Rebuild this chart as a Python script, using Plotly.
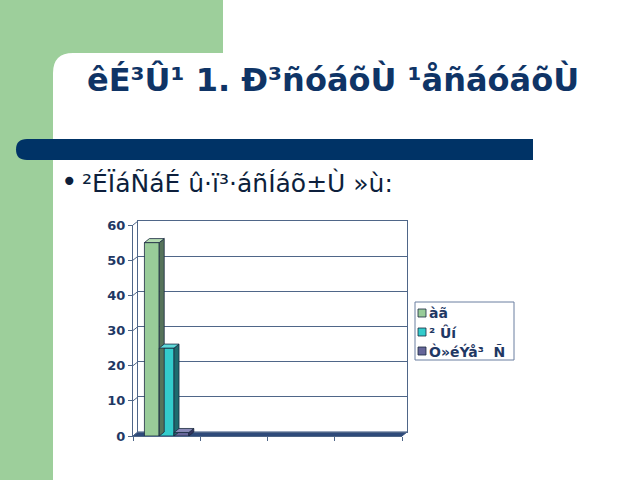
import plotly.graph_objects as go

W, H = 640, 480

title = "êÉ³Û¹ 1. Ð³ñóáõÙ ¹åñáóáõÙ"
bullet = "²ÉÏáÑáÉ û·ï³·áñÍáõ±Ù »ù:"

categories = [0, 1, 2, 3]
series_names = ["àã", "² Ûí", "Ò»éÝå³  Ñ"]
series_values = [
    [55, None, None, None],
    [25, None, None, None],
    [1, None, None, None],
]
y_ticks = [0, 10, 20, 30, 40, 50, 60]

front_colors = ["#99cc99", "#33cccc", "#666699"]
side_colors = ["#56735a", "#1d6b6e", "#34345e"]
top_colors = ["#b5dcb2", "#5fdada", "#8a8ab8"]

green_bg = "#9dcf9b"
grid_col = "#4f6688"
txt_col = "#1f3864"


def px(x):
    return x / W


def py(y):
    return 1 - y / H


def path(points):
    # points in pixels -> svg path in paper coords
    return "M " + " L ".join(f"{px(x):.5f},{py(y):.5f}" for x, y in points) + " Z"


# front axes (bars) and back wall (grid), offset for a fake 3d look
front_x = (133, 402)
front_y = (436, 225)
dxp, dyp = 5, 4
back_x = (front_x[0] + dxp, front_x[1] + dxp)
back_y = (front_y[0] - dyp, front_y[1] - dyp)

bar_w = 0.22
xrange_ = [-0.5, 3.5]
yrange_ = [0, 60]
ux = (front_x[1] - front_x[0]) / (xrange_[1] - xrange_[0])
uy = (front_y[0] - front_y[1]) / (yrange_[1] - yrange_[0])
ddx = dxp / ux
ddy = dyp / uy

fig = go.Figure()

shapes = []
# green slide background with rounded inner corner
shapes.append(dict(type="path", xref="paper", yref="paper", layer="below",
                   path=f"M 0,1 L {px(223)},1 L {px(223)},{py(53)} L {px(73)},{py(53)} "
                        f"Q {px(53)},{py(53)} {px(53)},{py(73)} L {px(53)},0 L 0,0 Z",
                   fillcolor=green_bg, line=dict(width=0)))
# navy divider bar
shapes.append(dict(type="path", xref="paper", yref="paper", layer="below",
                   path=f"M {px(27)},{py(139)} L {px(533)},{py(139)} L {px(533)},{py(160)} "
                        f"L {px(27)},{py(160)} Q {px(16)},{py(160)} {px(16)},{py(149.5)} "
                        f"Q {px(16)},{py(139)} {px(27)},{py(139)} Z",
                   fillcolor="#003366", line=dict(width=0)))
# floor of the 3d chart
shapes.append(dict(type="path", xref="paper", yref="paper", layer="below",
                   path=path([(front_x[0], front_y[0]), (front_x[1], front_y[0]),
                              (back_x[1], back_y[0]), (back_x[0], back_y[0])]),
                   fillcolor="#2e4a7a", line=dict(color="#2e4a7a", width=1)))
# side wall slanted grid segments
for t in y_ticks:
    yf = front_y[0] - t * uy
    shapes.append(dict(type="line", xref="paper", yref="paper", layer="below",
                       x0=px(front_x[0]), y0=py(yf), x1=px(back_x[0]), y1=py(yf - dyp),
                       line=dict(color=grid_col, width=1)))

# bar side and top faces, computed from the values
offsets = [-1.5 * bar_w, -0.5 * bar_w, 0.5 * bar_w]
for i, vals in enumerate(series_values):
    for c, v in zip(categories, vals):
        if v is None:
            continue
        x0 = c + offsets[i]
        x1 = x0 + bar_w
        shapes.append(dict(type="path", xref="x2", yref="y2",
                           path=f"M {x1},0 L {x1 + ddx},{ddy} L {x1 + ddx},{v + ddy} L {x1},{v} Z",
                           fillcolor=side_colors[i], line=dict(color="#1a2a40", width=0.8)))
        shapes.append(dict(type="path", xref="x2", yref="y2",
                           path=f"M {x0},{v} L {x1},{v} L {x1 + ddx},{v + ddy} L {x0 + ddx},{v + ddy} Z",
                           fillcolor=top_colors[i], line=dict(color="#1a2a40", width=0.8)))

for i, vals in enumerate(series_values):
    fig.add_trace(go.Bar(x=categories, y=vals, name=series_names[i],
                         width=bar_w, offset=offsets[i], showlegend=False,
                         marker=dict(color=front_colors[i], line=dict(color="#1a2a40", width=0.8)),
                         xaxis="x2", yaxis="y2"))

# invisible trace to hold back wall axes
fig.add_trace(go.Scatter(x=[None], y=[None], xaxis="x", yaxis="y", showlegend=False))

# legend box, drawn by hand so the swatches sit close to the text
leg_x0, leg_y0, leg_x1, leg_y1 = 415, 302, 514, 360
row_h = 19
shapes.append(dict(type="rect", xref="paper", yref="paper",
                   x0=px(leg_x0), x1=px(leg_x1), y0=py(leg_y0), y1=py(leg_y1),
                   fillcolor="white", line=dict(color="#6a7fa0", width=1)))
for i, name in enumerate(series_names):
    cy = leg_y0 + 11 + i * row_h
    shapes.append(dict(type="rect", xref="paper", yref="paper",
                       x0=px(leg_x0 + 3), x1=px(leg_x0 + 11), y0=py(cy - 4), y1=py(cy + 4),
                       fillcolor=front_colors[i], line=dict(color="#1a2a40", width=0.8)))
    fig.add_annotation(x=px(leg_x0 + 12), y=py(cy), xref="paper", yref="paper",
                       text=f"<b>{name}</b>", showarrow=False, xanchor="left", yanchor="middle",
                       font=dict(family="DejaVu Sans", size=14, color=txt_col))

tick_font = dict(family="DejaVu Sans", size=13, color=txt_col, weight="bold")

fig.update_layout(
    width=W, height=H,
    margin=dict(l=0, r=0, t=0, b=0, autoexpand=False),
    paper_bgcolor="white", plot_bgcolor="rgba(0,0,0,0)",
    barmode="overlay",
    shapes=shapes,
    showlegend=False,
    xaxis=dict(domain=[px(back_x[0]), px(back_x[1])], range=xrange_, showgrid=False,
               showticklabels=False, zeroline=False, showline=True, mirror=True,
               linecolor=grid_col, linewidth=1, anchor="y", automargin=False),
    yaxis=dict(domain=[py(back_y[0]), py(back_y[1])], range=yrange_, tickvals=y_ticks,
               showgrid=True, gridcolor=grid_col, gridwidth=1, showticklabels=False,
               zeroline=False, showline=True, mirror=True, linecolor=grid_col,
               linewidth=1, anchor="x", automargin=False),
    xaxis2=dict(domain=[px(front_x[0]), px(front_x[1])], range=xrange_,
                tickvals=[-0.5, 0.5, 1.5, 2.5, 3.5], ticks="outside", ticklen=4,
                tickcolor=grid_col, showticklabels=False, showgrid=False, zeroline=False,
                showline=True, linecolor=grid_col, anchor="y2", automargin=False),
    yaxis2=dict(domain=[py(front_y[0]), py(front_y[1])], range=yrange_, tickvals=y_ticks,
                ticks="outside", ticklen=4, tickcolor=grid_col, showgrid=False,
                zeroline=False, showline=True, linecolor=grid_col, tickfont=tick_font,
                anchor="x2", automargin=False),
)

fig.add_annotation(x=px(333), y=py(80), xref="paper", yref="paper", text=f"<b>{title}</b>",
                   showarrow=False, xanchor="center", yanchor="middle",
                   font=dict(family="DejaVu Sans", size=32, color="#0f3466"))
fig.add_annotation(x=px(59), y=py(181), xref="paper", yref="paper", text="•",
                   showarrow=False, xanchor="left", yanchor="middle",
                   font=dict(family="DejaVu Sans", size=28, color="#0d1f3c"))
fig.add_annotation(x=px(80), y=py(183), xref="paper", yref="paper", text=bullet,
                   showarrow=False, xanchor="left", yanchor="middle",
                   font=dict(family="DejaVu Sans", size=25, color="#0d1f3c"))

fig.write_html("out.html", config={"displayModeBar": False},
               post_script="document.body.style.margin='0';")
